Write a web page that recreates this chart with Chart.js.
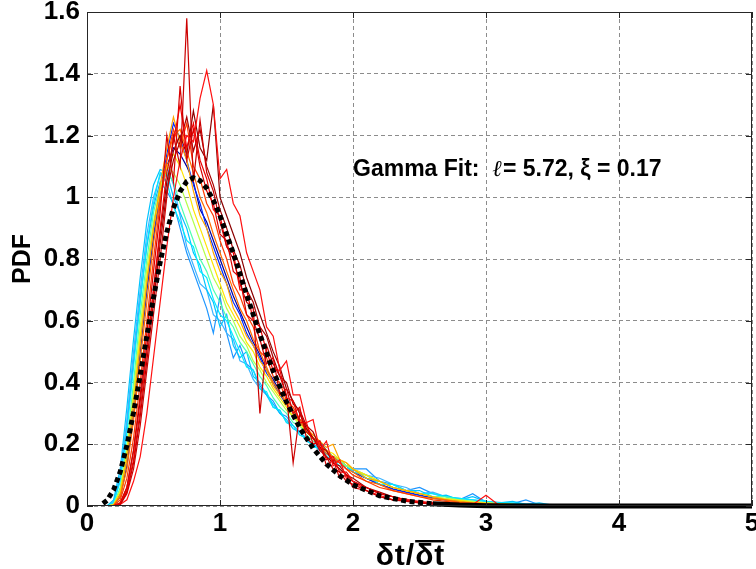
<!DOCTYPE html>
<html>
<head>
<meta charset="utf-8">
<script src="https://cdn.jsdelivr.net/npm/chart.js@4.4.0/dist/chart.umd.min.js"></script>
<style>
  html, body { margin: 0; padding: 0; background: #fff; }
  canvas { display: block; }
</style>
</head>
<body>
<canvas id="grafico" width="756" height="569"></canvas>
<script>
// x positions (dt / mean dt) shared by the measured curves
const xs = [0.15,0.2,0.25,0.3,0.35,0.4,0.45,0.5,0.55,0.6,0.65,0.7,0.75,0.8,0.85,0.9,0.95,1.0,1.05,1.1,1.15,1.2,1.25,1.3,1.35,1.4,1.45,1.5,1.55,1.6,1.65,1.7,1.75,1.8,1.85,1.9,1.95,2.0,2.1,2.2,2.3,2.4,2.5,2.6,2.7,2.8,2.9,3.0,3.1,3.2,3.3,3.4,3.5,3.6];

const yDarkBlue = [0,0.002,0.03,0.13,0.30,0.50,0.70,0.87,1.00,1.10, 1.16,1.14,1.10,1.05,0.96,0.92,0.86,0.80,0.74,0.68, 0.63,0.58,0.53,0.49,0.44,0.41,0.37,0.33,0.31,0.28, 0.25,0.22,0.21,0.18,0.16,0.15,0.13,0.11, 0.09,0.07,0.055,0.045,0.035,0.025,0.02,0.015,0.01,0.007,0.005,0.003,0.002,0.001,0,0];
const yBlue = [0,0.003,0.04,0.15,0.33,0.52,0.71,0.88,1.02,1.14, 1.24,1.19,1.12,1.04,0.98,0.90,0.84,0.78,0.72,0.66, 0.62,0.56,0.52,0.48,0.43,0.40,0.36,0.33,0.30,0.27, 0.25,0.22,0.20,0.18,0.16,0.14,0.13,0.11, 0.09,0.07,0.055,0.045,0.035,0.028,0.02,0.015,0.01,0.008,0.005,0.004,0.002,0.001,0.001,0];
const yDodger = [0,0.01,0.09,0.26,0.47,0.67,0.84,0.97,1.05,1.02, 0.98,0.90,0.82,0.76,0.70,0.64,0.56,0.68,0.56,0.48, 0.52,0.46,0.44,0.39,0.36,0.34,0.30,0.29,0.26,0.24, 0.22,0.20,0.19,0.17,0.16,0.14,0.13,0.12, 0.12,0.08,0.07,0.05,0.06,0.04,0.03,0.02,0.04,0.012,0.01,0.008,0.02,0.004,0.003,0.002];
const ySky = [0,0.015,0.10,0.28,0.50,0.70,0.88,1.00,1.07,1.10, 1.04,0.94,0.84,0.78,0.72,0.70,0.62,0.60,0.56,0.54, 0.47,0.46,0.41,0.38,0.36,0.32,0.31,0.27,0.26,0.23, 0.22,0.20,0.18,0.17,0.16,0.15,0.13,0.12, 0.10,0.09,0.07,0.06,0.04,0.045,0.03,0.025,0.02,0.015,0.012,0.008,0.006,0.004,0.002,0];
const yCyanA = [0,0.02,0.12,0.32,0.54,0.74,0.92,1.04,1.09,1.08, 1.00,0.95,0.90,0.82,0.78,0.70,0.66,0.58,0.62,0.52, 0.48,0.50,0.42,0.40,0.36,0.33,0.30,0.28,0.25,0.24, 0.21,0.20,0.18,0.17,0.15,0.14,0.12,0.12, 0.09,0.08,0.06,0.05,0.05,0.03,0.035,0.02,0.03,0.015,0.01,0.015,0.005,0.01,0.003,0];
const yCyanB = [0,0.01,0.08,0.24,0.45,0.66,0.85,0.98,1.08,1.05, 0.97,0.92,0.86,0.84,0.76,0.74,0.67,0.62,0.60,0.55, 0.50,0.45,0.44,0.38,0.37,0.32,0.31,0.27,0.26,0.23, 0.22,0.19,0.19,0.16,0.15,0.13,0.13,0.11, 0.10,0.07,0.07,0.05,0.04,0.04,0.03,0.025,0.02,0.015,0.01,0.01,0.005,0.005,0.002,0];
const yAqua = [0,0.005,0.06,0.20,0.40,0.62,0.80,0.95,1.04,1.08, 1.05,0.98,0.92,0.86,0.80,0.76,0.70,0.66,0.61,0.58, 0.53,0.50,0.46,0.42,0.39,0.35,0.32,0.30,0.27,0.26, 0.23,0.21,0.19,0.18,0.16,0.14,0.13,0.12, 0.09,0.08,0.06,0.05,0.04,0.03,0.03,0.02,0.015,0.01,0.008,0.005,0.004,0.002,0.001,0];
const yLime = [0,0.005,0.05,0.18,0.37,0.58,0.77,0.92,1.03,1.10, 1.08,1.04,0.98,0.92,0.86,0.80,0.74,0.70,0.64,0.60, 0.55,0.52,0.47,0.44,0.40,0.37,0.34,0.31,0.29,0.26, 0.24,0.22,0.20,0.18,0.16,0.15,0.13,0.12, 0.10,0.08,0.06,0.05,0.04,0.03,0.025,0.02,0.015,0.01,0.008,0.005,0.003,0.002,0.001,0];
const yYellow = [0,0.004,0.045,0.17,0.35,0.55,0.74,0.90,1.02,1.10, 1.14,1.10,1.04,0.96,0.90,0.84,0.78,0.72,0.66,0.62, 0.58,0.53,0.50,0.45,0.42,0.38,0.35,0.32,0.29,0.27, 0.24,0.22,0.20,0.18,0.17,0.15,0.14,0.12, 0.10,0.08,0.06,0.05,0.04,0.03,0.022,0.018,0.012,0.01,0.007,0.005,0.003,0.002,0.001,0];
const yOrange = [0,0.003,0.035,0.15,0.32,0.52,0.72,0.90,1.04,1.16, 1.26,1.18,1.12,1.02,0.94,0.90,0.82,0.76,0.72,0.64, 0.60,0.55,0.52,0.47,0.44,0.39,0.36,0.34,0.30,0.28, 0.25,0.23,0.21,0.19,0.20,0.15,0.14,0.12, 0.09,0.08,0.06,0.05,0.04,0.03,0.02,0.015,0.01,0.008,0.006,0.004,0.003,0.002,0.001,0];
const yDarkOrange = [0,0.002,0.03,0.12,0.28,0.47,0.66,0.85,1.00,1.12, 1.20,1.22,1.15,1.08,1.00,0.95,0.88,0.82,0.76,0.70, 0.64,0.60,0.54,0.50,0.45,0.40,0.37,0.33,0.31,0.27, 0.25,0.22,0.20,0.17,0.16,0.14,0.12,0.11, 0.08,0.07,0.05,0.04,0.03,0.025,0.02,0.012,0.01,0.008,0.005,0.003,0.002,0.001,0.001,0];
const yOrangeRed = [0,0.001,0.02,0.09,0.22,0.40,0.60,0.80,0.98,1.12, 1.22,1.16,1.24,1.10,1.06,0.98,0.94,0.86,0.80,0.72, 0.68,0.62,0.58,0.50,0.48,0.42,0.40,0.34,0.32,0.28, 0.26,0.22,0.20,0.18,0.15,0.14,0.12,0.10, 0.08,0.06,0.05,0.04,0.03,0.02,0.015,0.01,0.008,0.005,0.004,0.003,0.002,0.001,0,0];
const yRed = [0,0,0.005,0.02,0.08,0.16,0.30,0.48,0.66,0.84, 1.00,1.12,1.20,1.18,1.32,1.41,1.30,1.06,1.09,0.98, 0.94,0.82,0.76,0.70,0.58,0.55,0.44,0.47,0.36,0.36, 0.27,0.28,0.18,0.21,0.13,0.15,0.09,0.08, 0.05,0.035,0.02,0.022,0.01,0.012,0.005,0.006,0.004,0.035,0.002,0.004,0.001,0,0,0];
const yRed2 = [0,0,0.008,0.05,0.15,0.31,0.50,0.70,0.90,1.08, 1.18,1.30,1.16,1.24,1.12,1.06,0.96,0.94,0.84,0.82, 0.70,0.70,0.60,0.58,0.50,0.44,0.44,0.35,0.34,0.27, 0.27,0.20,0.21,0.15,0.16,0.11,0.11,0.08, 0.06,0.04,0.03,0.02,0.015,0.01,0.006,0.004,0.003,0.002,0.001,0.001,0,0,0,0];
const yCrimson = [0,0,0.01,0.06,0.18,0.36,0.56,0.76,0.95,1.20, 1.05,1.36,1.12,1.22,1.10,1.02,0.98,0.88,0.86,0.76, 0.74,0.62,0.60,0.54,0.46,0.48,0.36,0.38,0.30,0.32, 0.22,0.20,0.21,0.13,0.15,0.09,0.10,0.06, 0.05,0.03,0.02,0.018,0.01,0.008,0.006,0.003,0.002,0.001,0.001,0,0,0,0,0];
const yDarkRed = [0,0,0.006,0.045,0.14,0.29,0.47,0.66,0.85,1.02, 1.12,1.18,1.26,1.15,1.22,1.10,1.04,0.96,0.90,0.83, 0.78,0.70,0.66,0.58,0.55,0.48,0.42,0.40,0.33,0.31, 0.26,0.24,0.19,0.18,0.14,0.13,0.10,0.09, 0.06,0.045,0.03,0.02,0.012,0.008,0.005,0.003,0.002,0.001,0.001,0,0,0,0,0];
const ySpike = [0,0,0.005,0.04,0.12,0.26,0.44,0.62,0.80,1.00, 1.20,1.10,1.58,1.05,1.25,1.08,1.02,0.92,0.84,0.80, 0.72,0.66,0.64,0.30,0.52,0.46,0.42,0.36,0.14,0.30, 0.24,0.22,0.18,0.16,0.12,0.11,0.08,0.07, 0.05,0.03,0.02,0.015,0.01,0.006,0.004,0.002,0.001,0.001,0,0,0,0,0,0];
const yMaroon = [0,0,0.01,0.06,0.18,0.34,0.52,0.70,0.88,1.05, 1.15,1.20,1.14,1.28,1.16,1.12,1.30,1.00,0.94,0.88, 0.82,0.74,0.68,0.62,0.56,0.50,0.45,0.38,0.34,0.30, 0.25,0.22,0.19,0.16,0.14,0.12,0.10,0.08, 0.06,0.04,0.03,0.02,0.012,0.008,0.005,0.003,0.002,0.001,0,0,0,0,0,0];

// gamma fit
const fitX = [0.12,0.15,0.2,0.25,0.3,0.35,0.4,0.45,0.5,0.55,0.6,0.65,0.7,0.75,0.8,0.85,0.9,0.95,1.0,1.1,1.2,1.3,1.4,1.5,1.6,1.7,1.8,1.9,2.0,2.2,2.4,2.6,2.8,3.0,3.5,4.0,4.5,5.0];
const fitY = [0.008,0.018,0.052,0.111,0.196,0.303,0.424,0.551,0.675,0.789,0.887,0.965,1.019,1.051,1.063,1.054,1.029,0.990,0.940,0.819,0.685,0.555,0.437,0.337,0.253,0.187,0.136,0.098,0.069,0.033,0.016,0.007,0.003,0.001,0,0,0,0];

const xTicks = [0, 1, 2, 3, 4, 5];
const yTicks = [0, 0.2, 0.4, 0.6, 0.8, 1, 1.2, 1.4, 1.6];

// drawing order: first is underneath
const curvas = [
  [yDarkBlue, '#00009c'],
  [yBlue, '#0028ff'],
  [yDodger, '#1e96ff'],
  [ySky, '#3cb4ff'],
  [yCyanA, '#00c4ff'],
  [yCyanB, '#00ecff'],
  [yAqua, '#4cffb0'],
  [yLime, '#b4ff4a'],
  [yYellow, '#ffe400'],
  [yOrange, '#ffa400'],
  [yDarkOrange, '#ff6c00'],
  [yOrangeRed, '#ff3a00'],
  [yMaroon, '#8c0000'],
  [yDarkRed, '#a80000'],
  [yCrimson, '#d80000'],
  [yRed2, '#ee0000'],
  [yRed, '#ff1010'],
  [ySpike, '#cc0000']
];

const fonte = 'Liberation Sans, Arial, sans-serif';

const datasets = curvas.map((c, i) => ({
  data: xs.map((x, k) => ({ x: x, y: c[0][k] })),
  borderColor: c[1],
  borderWidth: 1.2,
  pointRadius: 0,
  tension: 0,
  order: curvas.length - i + 1
}));

datasets.push({
  data: fitX.map((x, k) => ({ x: x, y: fitY[k] })),
  borderColor: '#000',
  borderWidth: 5,
  borderCapStyle: 'butt',
  borderDash: [5, 3.5],
  pointRadius: 0,
  tension: 0,
  order: 0,
  clip: { left: 5, top: 0, right: 0, bottom: 4 },
  segment: {
    borderDash: ctx => ctx.p0.parsed.x >= 2.6 ? [] : [5, 3.5]
  }
});

const moldura = {
  id: 'moldura',
  afterDraw(chart) {
    const { ctx, chartArea: a, scales } = chart;
    const sx = scales.x, sy = scales.y;
    ctx.save();
    ctx.strokeStyle = '#262626';
    ctx.lineWidth = 1;
    ctx.strokeRect(a.left + 0.5, a.top + 0.5, a.right - a.left - 1, a.bottom - a.top - 1);
    ctx.beginPath();
    xTicks.forEach(v => {
      const px = Math.round(sx.getPixelForValue(v)) + 0.5;
      ctx.moveTo(px, a.bottom); ctx.lineTo(px, a.bottom - 6);
      ctx.moveTo(px, a.top); ctx.lineTo(px, a.top + 6);
    });
    yTicks.forEach(v => {
      const py = Math.round(sy.getPixelForValue(v)) + 0.5;
      ctx.moveTo(a.left, py); ctx.lineTo(a.left + 6, py);
      ctx.moveTo(a.right, py); ctx.lineTo(a.right - 6, py);
    });
    ctx.stroke();

    // annotation
    ctx.fillStyle = '#000';
    ctx.textBaseline = 'alphabetic';
    ctx.textAlign = 'left';
    let tx = sx.getPixelForValue(2.0);
    const ty = sy.getPixelForValue(1.07);
    ctx.font = 'bold 23px ' + fonte;
    const p1 = 'Gamma Fit:  ';
    ctx.fillText(p1, tx, ty);
    tx += ctx.measureText(p1).width;
    ctx.font = 'italic 23px "DejaVu Serif", serif';
    ctx.fillText('\u2113', tx, ty);
    tx += ctx.measureText('\u2113').width + 1;
    ctx.font = 'bold 23px ' + fonte;
    ctx.fillText('= 5.72, \u03BE = 0.17', tx, ty);

    // x axis title with bar over the second dt
    ctx.font = 'bold 30px ' + fonte;
    ctx.letterSpacing = '1px';
    const full = '\u03B4t/\u03B4t';
    const w = ctx.measureText(full).width - 1;
    const w0 = ctx.measureText('\u03B4t/').width;
    const x0 = 410 - w / 2;
    const by = 565;
    ctx.fillText(full, x0, by);
    ctx.fillRect(x0 + w0, by - 25, w - w0, 2.4);
    ctx.restore();
  }
};

const rotulo = v => String(parseFloat(Number(v).toFixed(2)));

new Chart(document.getElementById('grafico').getContext('2d'), {
  type: 'line',
  data: { datasets: datasets },
  options: {
    responsive: false,
    animation: false,
    events: [],
    layout: { padding: { top: 12, right: 4, left: 0, bottom: 0 } },
    plugins: { legend: { display: false }, tooltip: { enabled: false } },
    scales: {
      x: {
        type: 'linear', min: 0, max: 5,
        ticks: { stepSize: 1, color: '#000', padding: 2, maxRotation: 0, callback: rotulo,
                 font: { family: fonte, weight: 'bold', size: 26 } },
        grid: { color: '#8c8c8c', lineWidth: 1, drawTicks: false },
        border: { display: false, dash: [4, 3] },
        afterFit(s) { s.height = 63; s.paddingLeft = 0; s.paddingRight = 0; }
      },
      y: {
        min: 0, max: 1.6,
        ticks: { stepSize: 0.2, color: '#000', padding: 7, callback: rotulo,
                 font: { family: fonte, weight: 'bold', size: 26 } },
        grid: { color: '#8c8c8c', lineWidth: 1, drawTicks: false },
        border: { display: false, dash: [4, 3] },
        title: { display: true, text: 'PDF', color: '#000', padding: { top: 8, bottom: 0 },
                 font: { family: fonte, weight: 'bold', size: 25 } },
        afterFit(s) { s.width = 87; s.paddingTop = 0; s.paddingBottom = 0; }
      }
    }
  },
  plugins: [moldura]
});
</script>
</body>
</html>
